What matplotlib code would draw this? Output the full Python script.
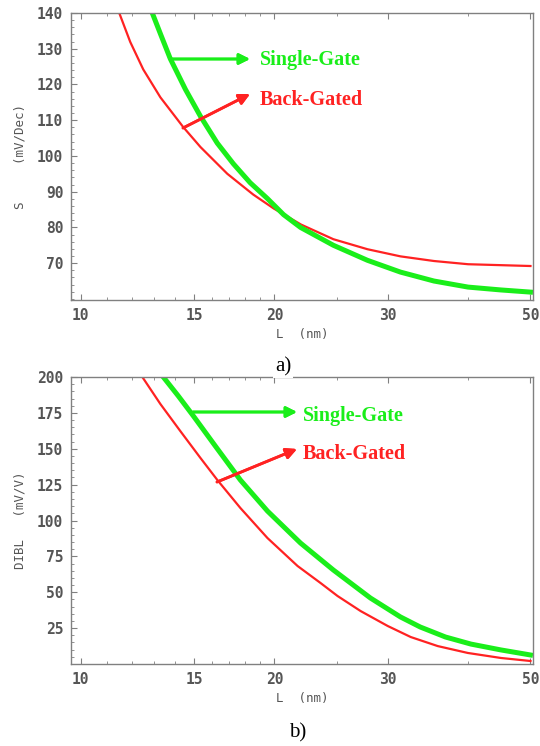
import numpy as np
import matplotlib.pyplot as plt
from matplotlib.ticker import FixedLocator, NullFormatter

# a) subthreshold swing S (mV/Dec) vs L (nm)
L_sg_a = [12.92, 13.30, 13.78, 14.55, 15.35, 16.30, 17.27, 18.34, 19.50, 20.66, 21.96,
          24.7, 27.9, 31.4, 35.4, 40.0, 45.0, 50.0]
S_sg_a = [140, 134.2, 127.2, 118.6, 111.1, 103.6, 97.8, 92.5, 88.1, 83.6, 80.0,
          75.0, 70.8, 67.5, 65.0, 63.3, 62.5, 61.9]
L_bg_a = [11.48, 11.94, 12.51, 13.30, 14.43, 15.35, 16.90, 18.54, 19.95, 22.0,
          24.7, 27.9, 31.4, 35.4, 40.0, 50.0]
S_bg_a = [140, 131.9, 124.2, 116.4, 108.1, 102.5, 95.0, 89.2, 85.3, 80.8,
          76.7, 73.9, 71.9, 70.6, 69.7, 69.2]

# b) DIBL (mV/V) vs L (nm)
L_sg_b = [13.44, 14.18, 14.97, 16.19, 17.71, 19.51, 21.96, 24.7, 28.2, 31.4,
          33.7, 36.9, 40.4, 45.0, 50.0]
D_sg_b = [200, 186.8, 172.8, 151.9, 128.2, 106.6, 84.3, 65.5, 46.0, 32.8,
          25.8, 18.8, 13.9, 9.8, 6.3]
L_bg_b = [12.47, 13.30, 14.28, 15.35, 16.31, 17.71, 19.51, 21.73, 23.6, 25.07,
          27.23, 30.0, 32.58, 35.88, 39.96, 45.0, 50.0]
D_bg_b = [200, 181.2, 162.4, 143.6, 128.2, 108.7, 87.8, 68.3, 56.4, 47.4,
          36.9, 26.5, 18.8, 12.5, 7.7, 4.2, 2.1]

x_major = [10, 15, 20, 30, 50]
x_minor = [11, 12, 13, 14, 16, 17, 18, 19, 25, 40]

green = '#1aee1a'
red = '#ff2222'
gray = '#808080'
tick_col = '#555555'
mono = 'DejaVu Sans Mono'

fig = plt.figure(figsize=(5.4, 7.46), dpi=100)
ax1 = fig.add_axes([0.1315, 0.5979, 0.856, 0.3847])
ax2 = fig.add_axes([0.1315, 0.1099, 0.856, 0.3847])


def style(ax, ylim, yticks, yminor, ylabel):
    ax.set_xscale('log')
    ax.set_xlim(9.66, 50.5)
    ax.set_ylim(*ylim)
    ax.xaxis.set_major_locator(FixedLocator(x_major))
    ax.xaxis.set_minor_locator(FixedLocator(x_minor))
    ax.xaxis.set_minor_formatter(NullFormatter())
    ax.set_xticklabels([str(v) for v in x_major])
    ax.set_yticks(yticks)
    ax.yaxis.set_minor_locator(FixedLocator(yminor))
    for s in ax.spines.values():
        s.set_color(gray)
        s.set_linewidth(1.0)
    ax.tick_params(which='both', direction='in', colors=gray, top=True, right=False,
                   labelcolor=tick_col, labelsize=10.5)
    ax.tick_params(which='major', length=4, pad=5.5)
    ax.tick_params(which='minor', length=2)
    for lab in ax.get_xticklabels() + ax.get_yticklabels():
        lab.set_family(mono)
        lab.set_fontweight('bold')
    ax.set_xlabel('L  (nm)', family=mono, fontsize=9, color=tick_col, labelpad=4)
    ax.set_ylabel(ylabel, family=mono, fontsize=9, color=tick_col, labelpad=8)


ax1.plot(L_bg_a, S_bg_a, color=red, lw=1.6)
ax1.plot(L_sg_a, S_sg_a, color=green, lw=3.6)
style(ax1, (59.7, 140), [70, 80, 90, 100, 110, 120, 130, 140],
      np.arange(60, 141, 2), 'S     (mV/Dec)')

ax2.plot(L_bg_b, D_bg_b, color=red, lw=1.6)
ax2.plot(L_sg_b, D_sg_b, color=green, lw=3.6)
style(ax2, (0, 200), [25, 50, 75, 100, 125, 150, 175, 200],
      np.arange(0, 201, 5), 'DIBL   (mV/V)')

# annotation arrows and labels (figure pixel coords)
W, H = 540, 746


def fx(p):
    return p / W


def fy(p):
    return 1 - p / H


arrows = [((171, 59), (250, 59), green), ((183, 128), (250, 94), red),
          ((193, 412), (297, 412), green), ((217, 482), (297, 449), red)]
for (x0, y0), (x1, y1), c in arrows:
    fig.add_artist(plt.annotate('', xy=(fx(x1), fy(y1)), xytext=(fx(x0), fy(y0)),
                                xycoords='figure fraction',
                                arrowprops=dict(arrowstyle='-|>', color=c, lw=2,
                                                mutation_scale=16, shrinkA=0, shrinkB=0)))

texts = [(260, 60, 'Single-Gate', green), (260, 100, 'Back-Gated', red),
         (303, 416, 'Single-Gate', green), (303, 454, 'Back-Gated', red)]
for x, y, t, c in texts:
    fig.text(fx(x), fy(y), t, color=c, family='Liberation Serif', fontweight='bold',
             fontsize=14.5, va='center', ha='left')

fig.text(fx(283), fy(367), 'a)', family='Liberation Serif', fontsize=15,
         ha='center', va='center', bbox=dict(facecolor='white', edgecolor='none', pad=1))
fig.text(fx(298), fy(733), 'b)', family='Liberation Serif', fontsize=15,
         ha='center', va='center')

fig.savefig('out.png', dpi=100)
